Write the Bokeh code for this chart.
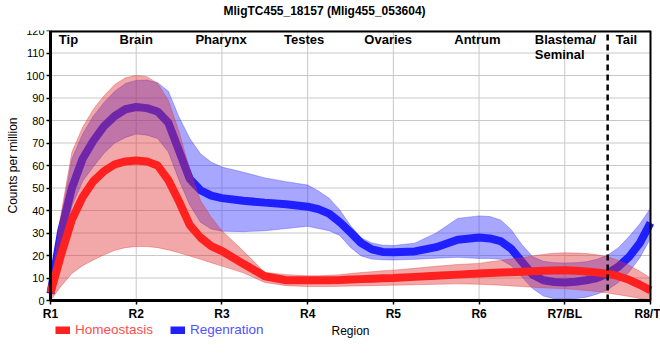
from bokeh.plotting import figure
from bokeh.models import FixedTicker, Legend, LegendItem, Range1d
from bokeh.core.properties import value
from bokeh.embed import file_html
from bokeh.resources import INLINE

# ---------------- data ----------------
x = [1, 1.125, 1.25, 1.375, 1.5, 1.625, 1.75, 1.875, 2, 2.125, 2.25, 2.375, 2.5, 2.625, 2.75, 2.875, 3,
     3.25, 3.5, 3.75, 4,
     4.125, 4.25, 4.375, 4.5, 4.625, 4.75, 4.875, 5,
     5.25, 5.5, 5.75, 6,
     6.125, 6.25, 6.375, 6.5, 6.625, 6.75, 6.875, 7,
     7.125, 7.25, 7.375, 7.5, 7.625, 7.75, 7.875, 8]

homeostasis = [3.5, 20.5, 36, 46, 53, 57.5, 60.5, 61.8, 62.2, 61.8, 60, 53.5, 44, 33.5, 28, 24.2, 22,
               16.3, 10.8, 9, 9,
               9, 9, 9.1, 9.3, 9.5, 9.7, 9.9, 10,
               10.5, 11, 11.5, 12,
               12.2, 12.4, 12.6, 12.8, 13, 13.2, 13.3, 13.4,
               13.2, 12.9, 12.5, 11.9, 10.8, 9.2, 7, 4.5]
homeostasis_hi = [5, 39, 66, 77, 85, 91, 96, 99, 100, 99.5, 96.5, 89, 75, 58, 44.4, 37, 31,
                  22, 12.5, 11.5, 11,
                  11, 11.2, 11.5, 12, 12.4, 12.8, 13.2, 13.5,
                  14.3, 15.2, 16, 16.5,
                  17.2, 17.8, 18.5, 19, 19.8, 20.5, 21, 21.2,
                  21.1, 20.9, 20.3, 19.4, 17.8, 15.7, 13, 10]
homeostasis_lo = [0, 6.5, 12, 15.5, 18, 20.3, 22.3, 23.5, 24, 24, 23.5, 22.5, 21.2, 19.8, 18.3, 16.8, 15.3,
                  12.3, 8, 6.6, 6.2,
                  6.2, 6.2, 6.3, 6.4, 6.5, 6.6, 6.7, 6.8,
                  7, 7.2, 7.4, 7.2,
                  7, 6.8, 6.5, 6.2, 5.9, 5.6, 5.4, 5.2,
                  4.9, 4.5, 4, 3.3, 2.6, 1.8, 0.9, 0]

regeneration = [3, 31, 50, 63, 71, 77.5, 82, 85, 86, 85.5, 84, 79, 66.5, 54, 49, 46.6, 45.5,
                44.3, 43.5, 42.8, 41.7,
                40.6, 38.6, 34.8, 30.3, 25.5, 22.7, 21.6, 21.4,
                21.8, 23.7, 27, 28,
                27.6, 26.4, 23, 17.2, 11.5, 9, 8.2, 8,
                8.3, 9, 10, 12, 15, 19.4, 25.5, 34.5]
regeneration_hi = [5, 37, 63, 74, 82, 88, 93, 96.5, 97.8, 98, 96.8, 93, 81.5, 72, 65.2, 61.5, 59.3,
                   57, 54.5, 52.8, 51.3,
                   48.7, 45.5, 40.2, 33.3, 27.8, 25.6, 24.6, 24.4,
                   25.5, 30, 36.5, 37.6,
                   37.3, 35.8, 31.5, 24.8, 19.5, 17.4, 16.8, 16.7,
                   16.8, 17.2, 18.3, 20.1, 23.5, 28.4, 34, 41]
regeneration_lo = [1, 23, 42, 53, 59.5, 65.5, 70, 72.5, 74, 73.5, 72, 66, 53.5, 42.5, 34.8, 31.8, 30.8,
                   30.6, 31, 32, 33,
                   32, 31, 28.9, 23.6, 19.8, 18.4, 18.1, 18,
                   18.3, 18.8, 19.2, 18.7,
                   18.7, 18.3, 15.5, 10.4, 5.3, 2, 0.8, 0.6,
                   0.9, 1.5, 2.8, 4.8, 8, 12.7, 19, 27.6]

tick_pos = [1, 2, 3, 4, 5, 6, 7, 8]
tick_labels = ["R1", "R2", "R3", "R4", "R5", "R6", "R7/BL", "R8/T"]
y_ticks = [0, 10, 20, 30, 40, 50, 60, 70, 80, 90, 100, 110, 120]

region_names = ["Tip", "Brain", "Pharynx", "Testes", "Ovaries", "Antrum", "Tail"]
region_x = [1.21, 2.0, 2.99, 3.96, 4.94, 5.98, 7.72]
region_y = [116, 116, 116, 116, 116, 116, 116]
blastema_lines = ["Blastema/", "Seminal"]
blastema_x = [6.65, 6.65]
blastema_y = [116, 109.3]
tail_boundary = 7.5

FONT = "Liberation Sans"
x_min, x_max = tick_pos[0], tick_pos[-1]
y_min, y_max = y_ticks[0], y_ticks[-1]

# The frame covers the whole figure width and extends below y=0, so that the axes
# (drawn at fixed locations) and the legend row are not clipped.
FRAME_W, FRAME_H = 660, 315
px_per_x = 600 / (x_max - x_min)
x_range = Range1d(x_min - 50 / px_per_x, x_max + 10 / px_per_x)
p = figure(frame_width=FRAME_W, frame_height=FRAME_H,
           x_range=x_range, y_range=Range1d(-20, y_max),
           output_backend="svg", toolbar_location=None,
           min_border_left=0, min_border_right=0, min_border_top=35, min_border_bottom=15)
p.styles = {"margin-top": "-5px"}
p.outline_line_color = None

p.title.text = "MligTC455_18157 (Mlig455_053604)"
p.title.align = "left"
p.title.offset = 223
p.title.text_font = FONT
p.title.text_font_size = "12px"
p.title.text_font_style = "bold"
p.title.text_color = "black"
p.title.standoff = 10
p.title.padding = dict(left=0, right=0, top=0, bottom=8)

# grid (restricted to the data area)
p.xgrid.visible = False
p.ygrid.visible = False
p.segment(x0=tick_pos, y0=[y_min] * len(tick_pos), x1=tick_pos, y1=[y_max] * len(tick_pos),
          line_color="#c8c8c8", line_width=1, level="underlay")
p.segment(x0=[x_min] * len(y_ticks), y0=y_ticks, x1=[x_max] * len(y_ticks), y1=y_ticks,
          line_color="#c8c8c8", line_width=1, level="underlay")

# axes
p.xaxis.fixed_location = y_min
p.yaxis.fixed_location = x_min
p.xaxis.ticker = FixedTicker(ticks=tick_pos)
p.xaxis.major_label_overrides = {t: l for t, l in zip(tick_pos, tick_labels)}
p.xaxis.bounds = (x_min, x_max)
p.yaxis.ticker = FixedTicker(ticks=y_ticks)
p.yaxis.bounds = (y_min, y_max)
for ax in (p.xaxis, p.yaxis):
    ax.axis_line_color = "black"
    ax.axis_line_width = 3
    ax.major_tick_line_color = "black"
    ax.major_tick_line_width = 1.5
    ax.major_tick_out = 4
    ax.major_tick_in = 0
    ax.minor_tick_line_color = None
    ax.major_label_text_color = "black"
    ax.major_label_text_font = FONT
    ax.axis_label_text_font = FONT
    ax.axis_label_text_font_style = "normal"
    ax.axis_label_text_color = "black"
    ax.axis_label_text_font_size = "12px"
p.xaxis.major_label_text_font_style = "bold"
p.xaxis.major_label_text_font_size = "12px"
p.xaxis.major_label_standoff = 2
p.yaxis.major_label_text_font_size = "11px"
p.yaxis.major_label_standoff = 2
p.xaxis.axis_label = "Region"
p.yaxis.axis_label = "Counts per million"
p.xaxis.axis_label_standoff = 0
p.yaxis.axis_label_standoff = 3

# regeneration (drawn first, beneath)
p.varea(x=x, y1=regeneration_lo, y2=regeneration_hi, fill_color="#3333ff", fill_alpha=0.43)
p.line(x, regeneration_hi, line_color="#3333ff", line_alpha=0.35, line_width=1)
p.line(x, regeneration_lo, line_color="#3333ff", line_alpha=0.35, line_width=1)
blue_line = p.line(x, regeneration, line_color="#2020ff", line_width=8)

# homeostasis
p.varea(x=x, y1=homeostasis_lo, y2=homeostasis_hi, fill_color="#e03030", fill_alpha=0.42)
p.line(x, homeostasis_hi, line_color="#e03030", line_alpha=0.35, line_width=1)
p.line(x, homeostasis_lo, line_color="#e03030", line_alpha=0.35, line_width=1)
red_line = p.line(x, homeostasis, line_color="#ff2020", line_width=8)

# top and right border of the plotting area
p.segment(x0=[x_min], y0=[y_max], x1=[x_max], y1=[y_max], line_color="black", line_width=4)
p.segment(x0=[x_max], y0=[y_min], x1=[x_max], y1=[y_max], line_color="black", line_width=2)

# tail boundary
p.segment(x0=[tail_boundary], y0=[y_min], x1=[tail_boundary], y1=[y_max],
          line_color="black", line_width=2.5, line_dash="6 4")

# region annotations
p.text(x=region_x, y=region_y, text=region_names, text_font=value(FONT),
       text_font_style="bold", text_font_size="13px", text_align="center",
       text_baseline="middle", text_color="black")
p.text(x=blastema_x, y=blastema_y, text=blastema_lines, text_font=value(FONT),
       text_font_style="bold", text_font_size="13px", text_align="left",
       text_baseline="middle", text_color="black")

# legends (two, so each label keeps its own colour)
def mk_legend(label, rend, color, loc):
    return Legend(items=[LegendItem(label=label, renderers=[rend])], location=loc,
                  orientation="horizontal", padding=0, margin=0, spacing=0,
                  glyph_width=15, glyph_height=8, label_standoff=5, label_height=12,
                  label_text_color=color, label_text_font=FONT, label_text_font_size="13.5px",
                  background_fill_alpha=0, border_line_alpha=0)

p.add_layout(mk_legend("Homeostasis", red_line, "#ff4d4d", (55, 8)), "center")
p.add_layout(mk_legend("Regenration", blue_line, "#5050ff", (170, 8)), "center")

open("out.html", "w").write(file_html(p, INLINE))
